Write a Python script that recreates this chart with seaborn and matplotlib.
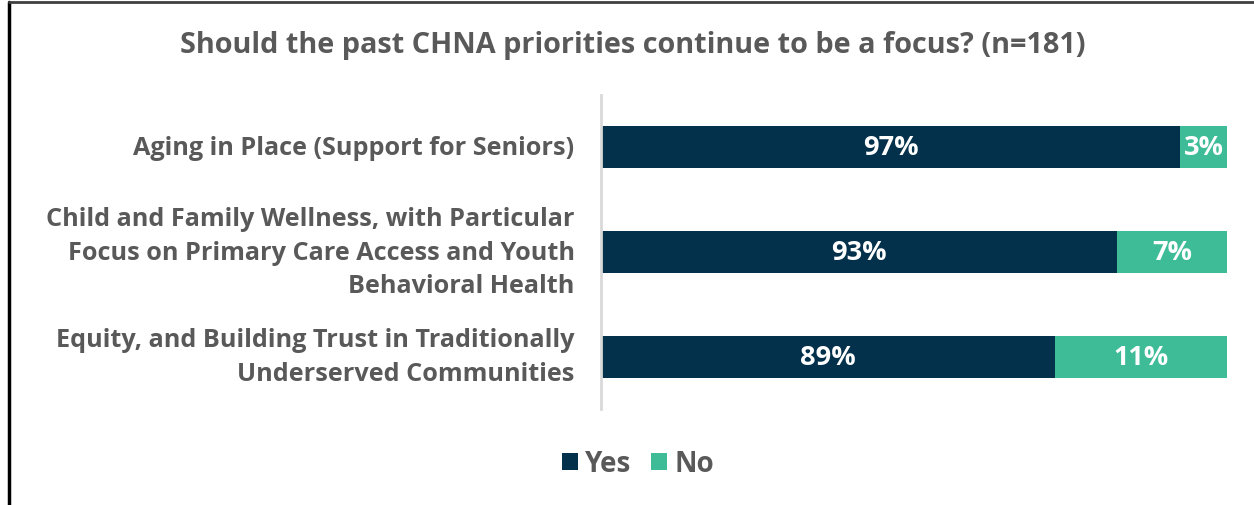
import matplotlib
matplotlib.use("Agg")
import matplotlib.pyplot as plt
from matplotlib.patches import Patch
from matplotlib.lines import Line2D
import seaborn as sns
import pandas as pd

categories = [
    "Aging in Place (Support for Seniors)",
    "Child and Family Wellness, with Particular\nFocus on Primary Care Access and Youth\nBehavioral Health",
    "Equity, and Building Trust in Traditionally\nUnderserved Communities",
]
yes_pct = [97, 93, 89]
no_pct = [3, 7, 11]
series_names = ["Yes", "No"]
title = "Should the past CHNA priorities continue to be a focus? (n=181)"
axis_min = 60  # value axis starts at 60%

YES_COLOR = "#03304A"
NO_COLOR = "#3DBC97"
TEXT_GRAY = "#595959"

sns.set_theme(style="white")
plt.rcParams["font.family"] = ["Open Sans", "DejaVu Sans"]

df = pd.DataFrame({"category": categories, "Yes": yes_pct, "No": no_pct})
df["total"] = df["Yes"] + df["No"]

fig = plt.figure(figsize=(12.54, 5.06), dpi=100)
ax = fig.add_axes([601 / 1254, 1 - 410 / 506, 626 / 1254, 314 / 506])

# stacked bars: full total in the "No" colour, then "Yes" on top from zero
sns.barplot(data=df, y="category", x="total", color=NO_COLOR, orient="h",
            width=0.4, ax=ax, saturation=1, linewidth=0)
sns.barplot(data=df, y="category", x="Yes", color=YES_COLOR, orient="h",
            width=0.4, ax=ax, saturation=1, linewidth=0)

ax.set_xlim(axis_min, 100)

for i, (y_val, n_val) in enumerate(zip(yes_pct, no_pct)):
    ax.text((axis_min + y_val) / 2, i, f"{y_val}%", ha="center", va="center",
            color="white", fontsize=19.5, fontweight="bold")
    ax.text(y_val + n_val / 2, i, f"{n_val}%", ha="center", va="center",
            color="white", fontsize=19.5, fontweight="bold")

ax.set_xlabel("")
ax.set_ylabel("")
ax.set_xticks([])
ax.tick_params(axis="y", length=0, pad=19)
for lbl in ax.get_yticklabels():
    lbl.set_fontsize(18.2)
    lbl.set_fontweight("bold")
    lbl.set_color(TEXT_GRAY)
    lbl.set_linespacing(1.45)
    lbl.set_multialignment("right")
    lbl.set_verticalalignment("center")
for side in ["top", "right", "bottom"]:
    ax.spines[side].set_visible(False)
ax.spines["left"].set_color("#D9D9D9")
ax.spines["left"].set_linewidth(2)

fig.text(632.5 / 1254, 1 - 45 / 506, title, ha="center", va="center",
         fontsize=20.8, fontweight="bold", color=TEXT_GRAY)

handles = [Patch(facecolor=YES_COLOR, edgecolor="none"),
           Patch(facecolor=NO_COLOR, edgecolor="none")]
fig.legend(handles, series_names, loc="center", bbox_to_anchor=(638 / 1254, 1 - 465 / 506),
           ncol=2, frameon=False, handlelength=0.58, handleheight=0.58,
           handletextpad=0.25, columnspacing=0.72,
           prop={"weight": "bold", "size": 20}, labelcolor=TEXT_GRAY)

# chart frame
fig.add_artist(Line2D([9 / 1254, 9 / 1254], [0, 1 - 3 / 506], transform=fig.transFigure,
                      color="black", linewidth=2.5))
fig.add_artist(Line2D([9 / 1254, 1], [1 - 3 / 506, 1 - 3 / 506], transform=fig.transFigure,
                      color="#404040", linewidth=2))

fig.savefig("out.png", dpi=100)
